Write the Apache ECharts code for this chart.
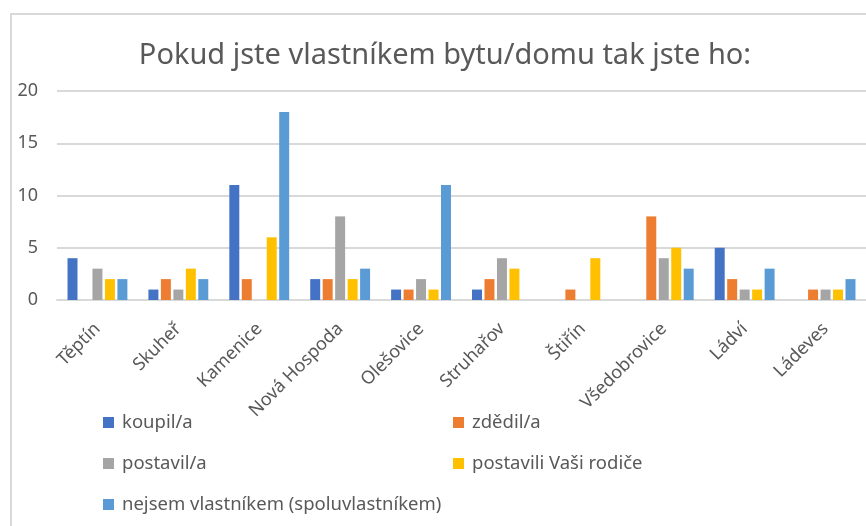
<!DOCTYPE html>
<html>
<head>
<meta charset="utf-8">
<script src="https://cdn.jsdelivr.net/npm/echarts@6/dist/echarts.min.js"></script>
<style>
  html, body { margin: 0; padding: 0; background: #fff; }
  #main { width: 866px; height: 526px; }
</style>
</head>
<body>
<div id="main"></div>
<script>
// obce
var obce = ['Těptín', 'Skuheř', 'Kamenice', 'Nová Hospoda', 'Olešovice', 'Struhařov', 'Štiřín', 'Všedobrovice', 'Ládví', 'Ládeves'];

// hodnoty po řadách
var koupil = [4, 1, 11, 2, 1, 1, 0, 0, 5, 0];
var zdedil = [0, 2, 2, 2, 1, 2, 1, 8, 2, 1];
var postavil = [3, 1, 0, 8, 2, 4, 0, 4, 1, 1];
var rodice = [2, 3, 6, 2, 1, 3, 4, 5, 1, 1];
var nejsem = [2, 2, 18, 3, 11, 0, 0, 3, 3, 2];

var nazvy = ['koupil/a', 'zdědil/a', 'postavil/a', 'postavili Vaši rodiče', 'nejsem vlastníkem (spoluvlastníkem)'];
var barvy = ['#4472C4', '#ED7D31', '#A5A5A5', '#FFC000', '#5B9BD5'];
var yTicks = [0, 5, 10, 15, 20];

var font = '"Noto Sans", sans-serif';
var seda = '#595959';

var myChart = echarts.init(document.getElementById('main'));

var data = [koupil, zdedil, postavil, rodice, nejsem];
var series = data.map(function (d, i) {
  return {
    name: nazvy[i],
    type: 'bar',
    data: d,
    barGap: '25%',
    barCategoryGap: '26%',
    itemStyle: { color: barvy[i] }
  };
});

var legendStyle = {
  orient: 'vertical',
  padding: 0,
  itemWidth: 11,
  itemHeight: 11,
  itemGap: 20,
  icon: 'rect',
  textStyle: { fontFamily: font, fontSize: 18.5, color: seda, lineHeight: 21, padding: [0, 0, 0, 3] }
};

myChart.setOption({
  animation: false,
  textStyle: { fontFamily: font },
  title: {
    text: 'Pokud jste vlastníkem bytu/domu tak jste ho:',
    left: 445,
    top: 41,
    textAlign: 'center',
    padding: 0,
    textStyle: { fontFamily: font, fontSize: 29, fontWeight: 'normal', color: seda }
  },
  graphic: [{
    type: 'rect',
    shape: { x: 11, y: 14, width: 900, height: 600 },
    style: { fill: 'none', stroke: '#d9d9d9', lineWidth: 2 },
    silent: true
  }],
  legend: [
    Object.assign({ left: 103, top: 412, data: [nazvy[0], nazvy[2], nazvy[4]] }, legendStyle),
    Object.assign({ left: 453, top: 412, data: [nazvy[1], nazvy[3]] }, legendStyle)
  ],
  grid: { left: 57, right: 0, top: 91, bottom: 226, containLabel: false },
  xAxis: {
    type: 'category',
    data: obce,
    axisLine: { lineStyle: { color: '#d9d9d9', width: 2 } },
    axisTick: { show: false },
    axisLabel: { rotate: 45, margin: 26, interval: 0, fontSize: 18, color: seda, fontFamily: font }
  },
  yAxis: {
    type: 'value',
    min: yTicks[0],
    max: yTicks[yTicks.length - 1],
    interval: 5,
    axisLine: { show: false },
    axisTick: { show: false },
    splitLine: { lineStyle: { color: '#d9d9d9', width: 2 } },
    axisLabel: { margin: 19, fontSize: 18, color: seda, fontFamily: font }
  },
  series: series
});
</script>
</body>
</html>
